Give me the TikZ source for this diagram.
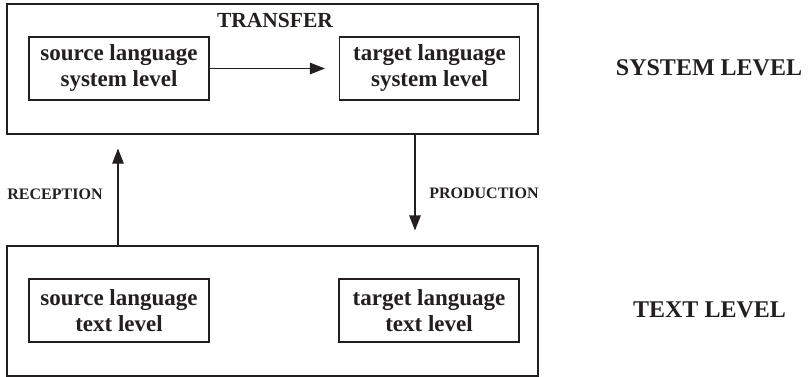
\documentclass[tikz,border=0pt]{standalone}
\usepackage{fontspec}
\setmainfont{Liberation Serif}
\usetikzlibrary{arrows.meta}
\definecolor{ink}{HTML}{231F20}
\begin{document}
\begin{tikzpicture}[x=1pt,y=-1pt,
  every node/.style={text=ink,font=\bfseries},
  outerbox/.style={draw=ink,line width=1.1pt,minimum width=531pt,minimum height=130pt,inner sep=0pt},
  innerbox/.style={draw=ink,line width=1.1pt,minimum width=180pt,minimum height=63pt,inner sep=0pt,align=center,font=\bfseries\fontsize{23}{26}\selectfont},
  biglabel/.style={inner sep=0pt,font=\bfseries\fontsize{24}{28}\selectfont},
  smalllabel/.style={inner sep=0pt,font=\bfseries\fontsize{16}{18}\selectfont},
  arr/.style={draw=ink,line width=1.1pt,-{Triangle[length=15pt,width=11.5pt]}}
]
\useasboundingbox (0,0) rectangle (808,377);
% outer boxes
\node[outerbox] (top) at (272.5,69) {};
\node[outerbox] (bot) at (272.5,311) {};
% inner boxes
\node[innerbox] (ss) at (119,68.5) {source language\\system level};
\node[innerbox] (ts) at (429.5,68.5) {target language\\system level};
\node[innerbox] (st) at (119,310.5) {source language\\text level};
\node[innerbox] (tt) at (429,310.5) {target language\\text level};
% labels
\node[inner sep=0pt,font=\bfseries\fontsize{21.5}{24}\selectfont] (transfer) at (275,20) {TRANSFER};
\node[biglabel] (syslev) at (709,68) {SYSTEM LEVEL};
\node[biglabel] (txtlev) at (709.5,310) {TEXT LEVEL};
\node[smalllabel] (rec) at (55,194) {RECEPTION};
\node[smalllabel] (prod) at (484,193) {PRODUCTION};
% arrows
\coordinate (rx) at (118,0);
\coordinate (px) at (415,0);
\draw[arr,shorten >=14pt] (ss.east) -- (ts.west);
\draw[arr,shorten >=14pt] (rx |- bot.north) -- (rx |- top.south);
\draw[arr,shorten >=15pt] (px |- top.south) -- (px |- bot.north);
\end{tikzpicture}
\end{document}
